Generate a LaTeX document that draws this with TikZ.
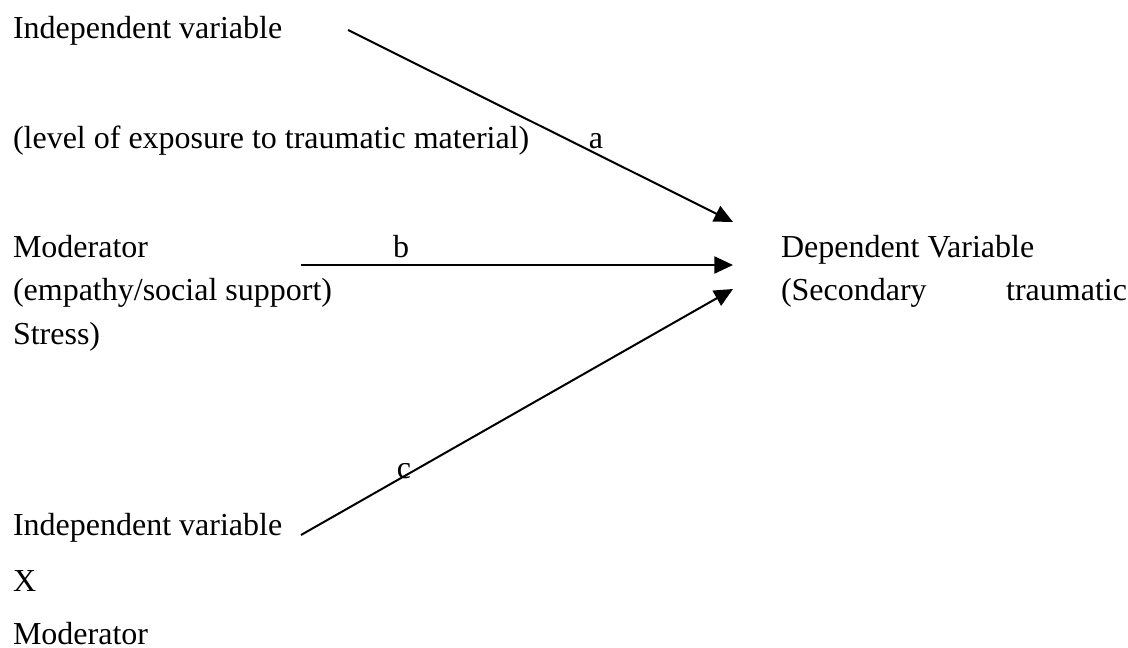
\documentclass[tikz,border=0pt]{standalone}
\usepackage{fontspec}
\setmainfont{Liberation Serif}
\usetikzlibrary{arrows.meta}
\begin{document}
\begin{tikzpicture}[x=0.375pt,y=-0.375pt,
  txt/.style={inner sep=0pt,outer sep=0pt,anchor=base west,font=\fontsize{12pt}{14pt}\selectfont},
  lbl/.style={inner sep=0pt,outer sep=0pt,anchor=base,font=\fontsize{12pt}{14pt}\selectfont},
  link/.style={line width=0.75pt,-{Triangle[length=7pt,width=6.4pt]}}]
\useasboundingbox (0,0) rectangle (1128,648);
% left-hand texts
\node[txt] (iv1)   at (13,39)  {Independent variable};
\node[txt] (iv1b)  at (13,149) {(level of exposure to traumatic material)};
\node[txt] (mod)   at (13,258) {Moderator};
\node[txt] (modb)  at (13,301) {(empathy/social support)};
\node[txt] (modc)  at (13,345) {Stress)};
\node[txt] (iv2)   at (13,535) {Independent variable};
\node[txt] (iv2b)  at (13,591) {X};
\node[txt] (iv2c)  at (13,644) {Moderator};
% right-hand texts
\node[txt] (dv)    at (781,258) {Dependent Variable};
\node[txt] (dvb)   at (781,301) {(Secondary};
\node[inner sep=0pt,outer sep=0pt,anchor=base east,font=\fontsize{12pt}{14pt}\selectfont] (dvc) at (1127,301) {traumatic};
% connector ends
\coordinate (a0) at (348,30);
\coordinate (a1) at (733,222);
\coordinate (b0) at (301,265);
\coordinate (b1) at (733,265);
\coordinate (c0) at (301,535);
\coordinate (c1) at (733,289);
\draw[link] (a0) -- (a1);
\draw[link] (b0) -- (b1);
\draw[link] (c0) -- (c1);
% path labels
\node[lbl] (la) at (596,149) {a};
\node[lbl] (lb) at (401,258) {b};
\node[lbl] (lc) at (404,479) {c};
\end{tikzpicture}
\end{document}
